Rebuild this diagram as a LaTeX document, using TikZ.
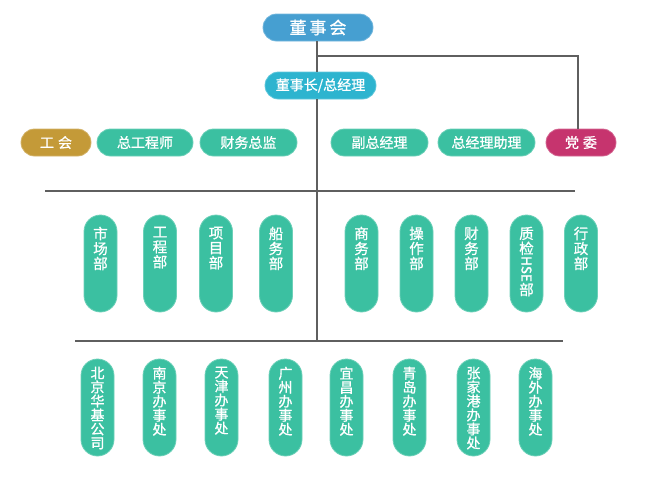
\documentclass[tikz,border=0pt]{standalone}
\usepackage{fontspec}
\setmainfont{Noto Sans CJK SC}[FakeBold=1]
\definecolor{linegray}{HTML}{5F5F5F}
\definecolor{topblue}{HTML}{469FD1}
\definecolor{cyanblue}{HTML}{2DB4CF}
\definecolor{tealc}{HTML}{3BC0A1}
\definecolor{goldc}{HTML}{C49A38}
\definecolor{magc}{HTML}{C6346E}
\begin{document}
\begin{tikzpicture}[x=1pt,y=-1pt,
  line/.style={draw=linegray, line width=2pt},
  pillh/.style={rectangle, rounded corners=13.5pt, minimum height=27pt, inner sep=0pt,
    text=white, font=\fontsize{14}{16}\selectfont, line width=0.8pt},
  tealh/.style={pillh, fill=tealc, draw=tealc!75!white},
  pillv/.style={rectangle, rounded corners=16.5pt, minimum width=33pt, minimum height=97pt,
    inner sep=0pt, fill=tealc, draw=tealc!75!white, line width=0.8pt},
  vlab/.style={anchor=north, inner sep=0pt, align=center, text=white},
  vlabA/.style={vlab, font=\fontsize{14.5}{15}\selectfont},
  vlabB/.style={vlab, font=\fontsize{14}{14}\selectfont}
]
\useasboundingbox (0,0) rectangle (648,488);

% top levels
\node[pillh, fill=topblue, draw=topblue!75!white, minimum width=110pt, font=\fontsize{17}{19}\selectfont]
  (dsh) at (318,27.5) {董\hspace{3pt}事\hspace{3pt}会};
\node[pillh, fill=cyanblue, draw=cyanblue!75!white, minimum width=111pt]
  (zjl) at (320.5,85.5) {董事长/总经理};

% third row
\node[pillh, fill=goldc, draw=goldc!75!white, minimum width=70pt] (gh) at (56,142.5) {工\hspace{4pt}会};
\node[tealh, minimum width=96pt] (zgcs) at (145,142.5) {总工程师};
\node[tealh, minimum width=97pt] (cwzj) at (248.5,142.5) {财务总监};
\node[tealh, minimum width=97pt] (fzjl) at (379.5,142.5) {副总经理};
\node[tealh, minimum width=97pt] (zjlzl) at (486.5,142.5) {总经理助理};
\node[pillh, fill=magc, draw=magc!75!white, minimum width=70pt] (dw) at (581,142.5) {党\hspace{4pt}委};

% connectors
\coordinate (t1) at (317,56);
\coordinate (t2) at (578,56);
\coordinate (b2) at (317,341);
\coordinate (bus1L) at (45,191);
\coordinate (bus1R) at (575,191);
\coordinate (bus2L) at (75,341);
\coordinate (bus2R) at (563,341);
\draw[line] (dsh.south -| t1) -- (zjl.north -| t1);
\draw[line] (t1) -- (t2) -- (t2 |- dw.north);
\draw[line] (zjl.south -| t1) -- (b2);
\draw[line] (bus1L) -- (bus1R);
\draw[line] (bus2L) -- (bus2R);

% fourth row: departments
\foreach \n/\x in {scb/100.5, gcb/160, xmb/216, cwb/276, swb/361.5, czb/416.5, cwb2/471.5, zjb/526.5, xzb/581}{
  \node[pillv] (\n) at (\x,263.5) {};
}
\node[vlabA] (scbT) at ([yshift=-12pt]scb.north) {市\\场\\部};
\node[vlabA] (gcbT) at ([yshift=-12pt]gcb.north) {工\\程\\部};
\node[vlabA] (xmbT) at ([yshift=-12pt]xmb.north) {项\\目\\部};
\node[vlabA] (cwbT) at ([yshift=-12pt]cwb.north) {船\\务\\部};
\node[vlabA] (swbT) at ([yshift=-12pt]swb.north) {商\\务\\部};
\node[vlabA] (czbT) at ([yshift=-12pt]czb.north) {操\\作\\部};
\node[vlabA] (cwb2T) at ([yshift=-12pt]cwb2.north) {财\\务\\部};
\node[vlabA] (zjbT) at ([yshift=-12pt]zjb.north) {质\\检\\\rotatebox[origin=c]{-90}{\fontsize{13.5}{14}\selectfont HSE}\\部};
\node[vlabA] (xzbT) at ([yshift=-12pt]xzb.north) {行\\政\\部};

% fifth row: offices
\foreach \n/\x in {bj/97.5, nj/159.5, tj/221.5, gz/285.5, yc/346.5, qd/409.5, zjg/473.5, hw/535.5}{
  \node[pillv] (\n) at (\x,407.5) {};
}
\node[vlabB] (bjT) at ([yshift=-8pt]bj.north) {北\\京\\华\\基\\公\\司};
\node[vlabB] (njT) at ([yshift=-8pt]nj.north) {南\\京\\办\\事\\处};
\node[vlabB] (tjT) at ([yshift=-8pt]tj.north) {天\\津\\办\\事\\处};
\node[vlabB] (gzT) at ([yshift=-8pt]gz.north) {广\\州\\办\\事\\处};
\node[vlabB] (ycT) at ([yshift=-8pt]yc.north) {宜\\昌\\办\\事\\处};
\node[vlabB] (qdT) at ([yshift=-8pt]qd.north) {青\\岛\\办\\事\\处};
\node[vlabB] (zjgT) at ([yshift=-8pt]zjg.north) {张\\家\\港\\办\\事\\处};
\node[vlabB] (hwT) at ([yshift=-8pt]hw.north) {海\\外\\办\\事\\处};
\end{tikzpicture}
\end{document}
